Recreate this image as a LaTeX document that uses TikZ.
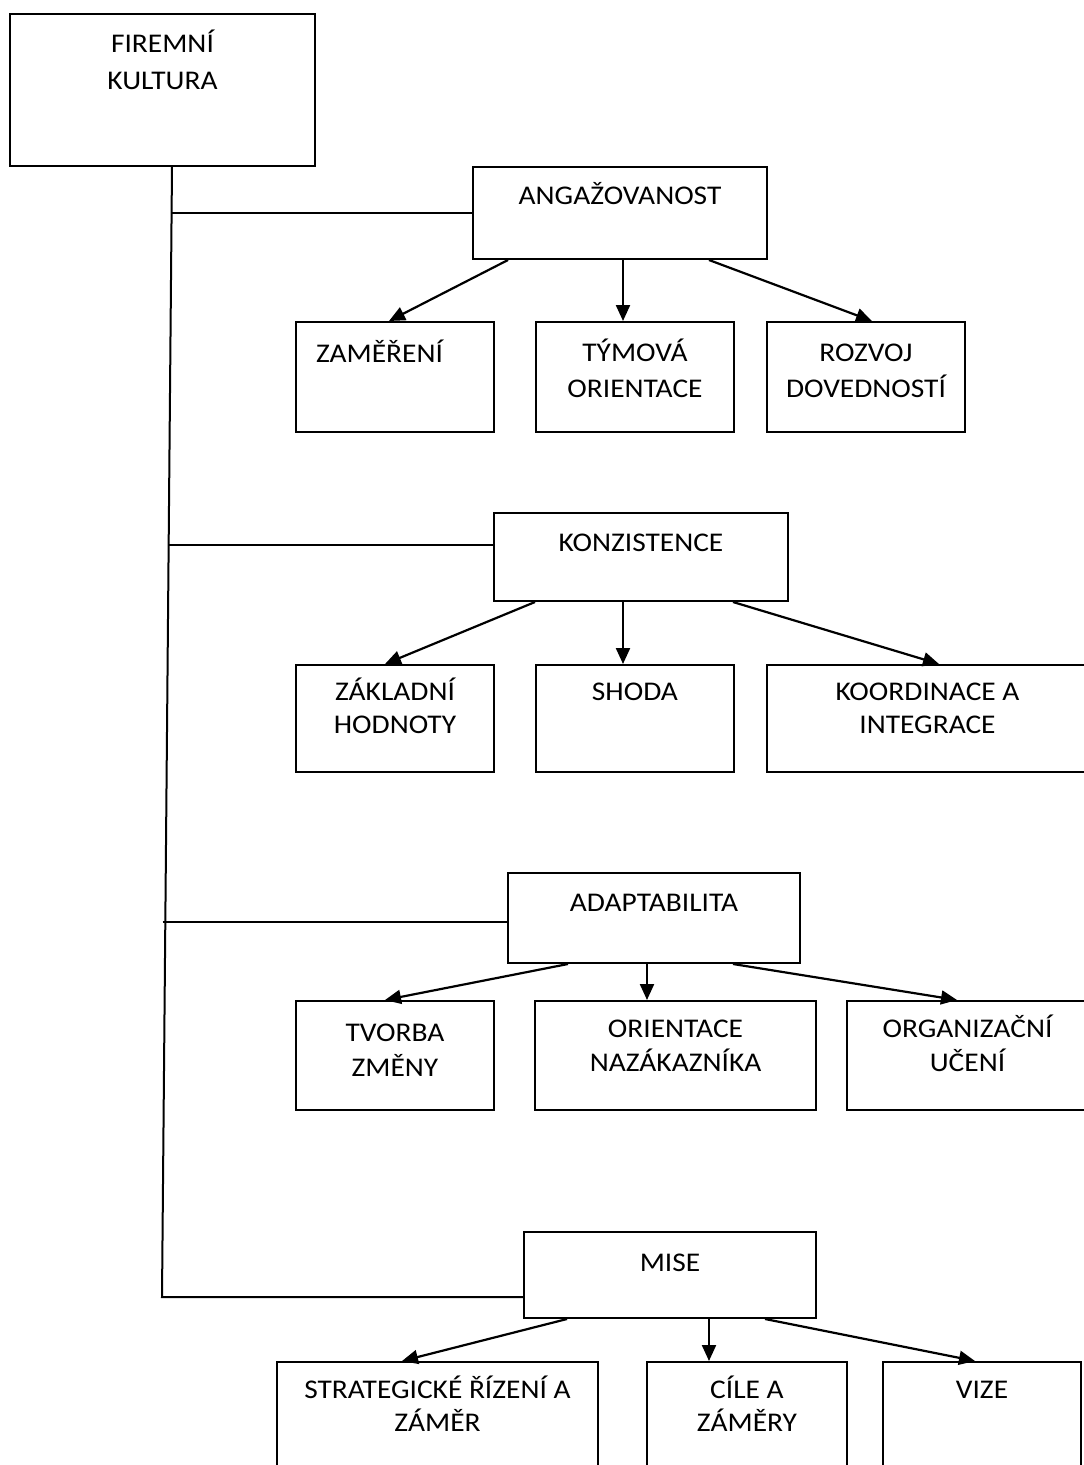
\documentclass[tikz,border=0pt]{standalone}
\usepackage{fontspec}
\setmainfont{Carlito}[FakeStretch=1.09]
\usetikzlibrary{arrows.meta}
\newcommand{\bxt}[5]{\parbox[t][#2pt][t]{#1pt}{\centering\fontsize{27pt}{#3pt}\selectfont\rule{0pt}{#4pt}#5}}
\tikzset{
  box/.style={draw, line width=2pt, inner sep=0pt, anchor=north west},
  conn/.style={line width=2pt},
  arr/.style={line width=2.2pt, -{Triangle[length=16pt,width=14pt]}}
}
\begin{document}
\begin{tikzpicture}[x=1pt,y=-1pt]
\fill[white] (0,0) rectangle (1084,1465);
\useasboundingbox (0,0) rectangle (1084,1465);
\clip (0,0) rectangle (1084,1465);

\node[box] (fk) at (9,13) {\bxt{305}{152}{37}{38.7}{FIREMNÍ\\KULTURA}};

\node[box] (ang) at (472,166) {\bxt{294}{92}{32}{37.7}{ANGAŽOVANOST}};
\node[box] (zam) at (295,321) {\parbox[t][110pt][t]{198pt}{\fontsize{27pt}{32pt}\selectfont\hspace*{20pt}\rule{0pt}{40.7pt}ZAMĚŘENÍ}};
\node[box] (tym) at (535,321) {\bxt{198}{110}{36}{39.7}{TÝMOVÁ\\ORIENTACE}};
\node[box] (roz) at (766,321) {\bxt{198}{110}{36}{39.7}{ROZVOJ\\DOVEDNOSTÍ}};

\node[box] (kon) at (493,512) {\bxt{294}{88}{32}{38.7}{KONZISTENCE}};
\node[box] (zak) at (295,664) {\bxt{198}{107}{33}{35.7}{ZÁKLADNÍ\\HODNOTY}};
\node[box] (sho) at (535,664) {\bxt{198}{107}{33}{35.7}{SHODA}};
\node[box] (koo) at (766,664) {\bxt{321}{107}{33}{35.7}{KOORDINACE A\\INTEGRACE}};

\node[box] (ada) at (507,872) {\bxt{292}{90}{32}{38.7}{ADAPTABILITA}};
\node[box] (tvo) at (295,1000) {\bxt{198}{109}{35}{40.7}{TVORBA\\ZMĚNY}};
\node[box] (ori) at (534,1000) {\bxt{281}{109}{34}{36.7}{ORIENTACE\\NAZÁKAZNÍKA}};
\node[box] (org) at (846,1000) {\bxt{241}{109}{34}{36.7}{ORGANIZAČNÍ\\UČENÍ}};

\node[box] (mis) at (523,1231) {\bxt{292}{86}{32}{39.7}{MISE}};
\node[box] (str) at (276,1361) {\bxt{321}{120}{33}{36.7}{STRATEGICKÉ ŘÍZENÍ A\\ZÁMĚR}};
\node[box] (cil) at (646,1361) {\bxt{200}{120}{33}{36.7}{CÍLE A\\ZÁMĚRY}};
\node[box] (viz) at (882,1361) {\bxt{198}{120}{33}{36.7}{VIZE}};

% trunk
\coordinate (tEnd) at (162,1297);
\coordinate (tA) at (171.6,213);
\coordinate (tK) at (168.6,545);
\coordinate (tD) at (162.5,922);
\draw[conn] ([xshift=163pt]fk.south west) -- (tEnd) -- (mis.west |- tEnd);
\draw[conn] (tA) -- (ang.west |- tA);
\draw[conn] (tK) -- (kon.west |- tK);
\draw[conn] (tD) -- (ada.west |- tD);

% arrows
\draw[arr] ([xshift=36pt]ang.south west) -- ([xshift=94pt]zam.north west);
\draw[arr] ([xshift=151pt]ang.south west) -- ([xshift=88pt]tym.north west);
\draw[arr] ([xshift=237pt]ang.south west) -- ([xshift=106pt]roz.north west);

\draw[arr] ([xshift=42pt]kon.south west) -- ([xshift=90pt]zak.north west);
\draw[arr] ([xshift=130pt]kon.south west) -- ([xshift=88pt]sho.north west);
\draw[arr] ([xshift=240pt]kon.south west) -- ([xshift=173pt]koo.north west);

\draw[arr] ([xshift=61pt]ada.south west) -- ([xshift=90pt]tvo.north west);
\draw[arr] ([xshift=140pt]ada.south west) -- ([xshift=113pt]ori.north west);
\draw[arr] ([xshift=226pt]ada.south west) -- ([xshift=111pt]org.north west);

\draw[arr] ([xshift=44pt]mis.south west) -- ([xshift=126pt]str.north west);
\draw[arr] ([xshift=186pt]mis.south west) -- ([xshift=63pt]cil.north west);
\draw[arr] ([xshift=242pt]mis.south west) -- ([xshift=93pt]viz.north west);
\end{tikzpicture}
\end{document}
